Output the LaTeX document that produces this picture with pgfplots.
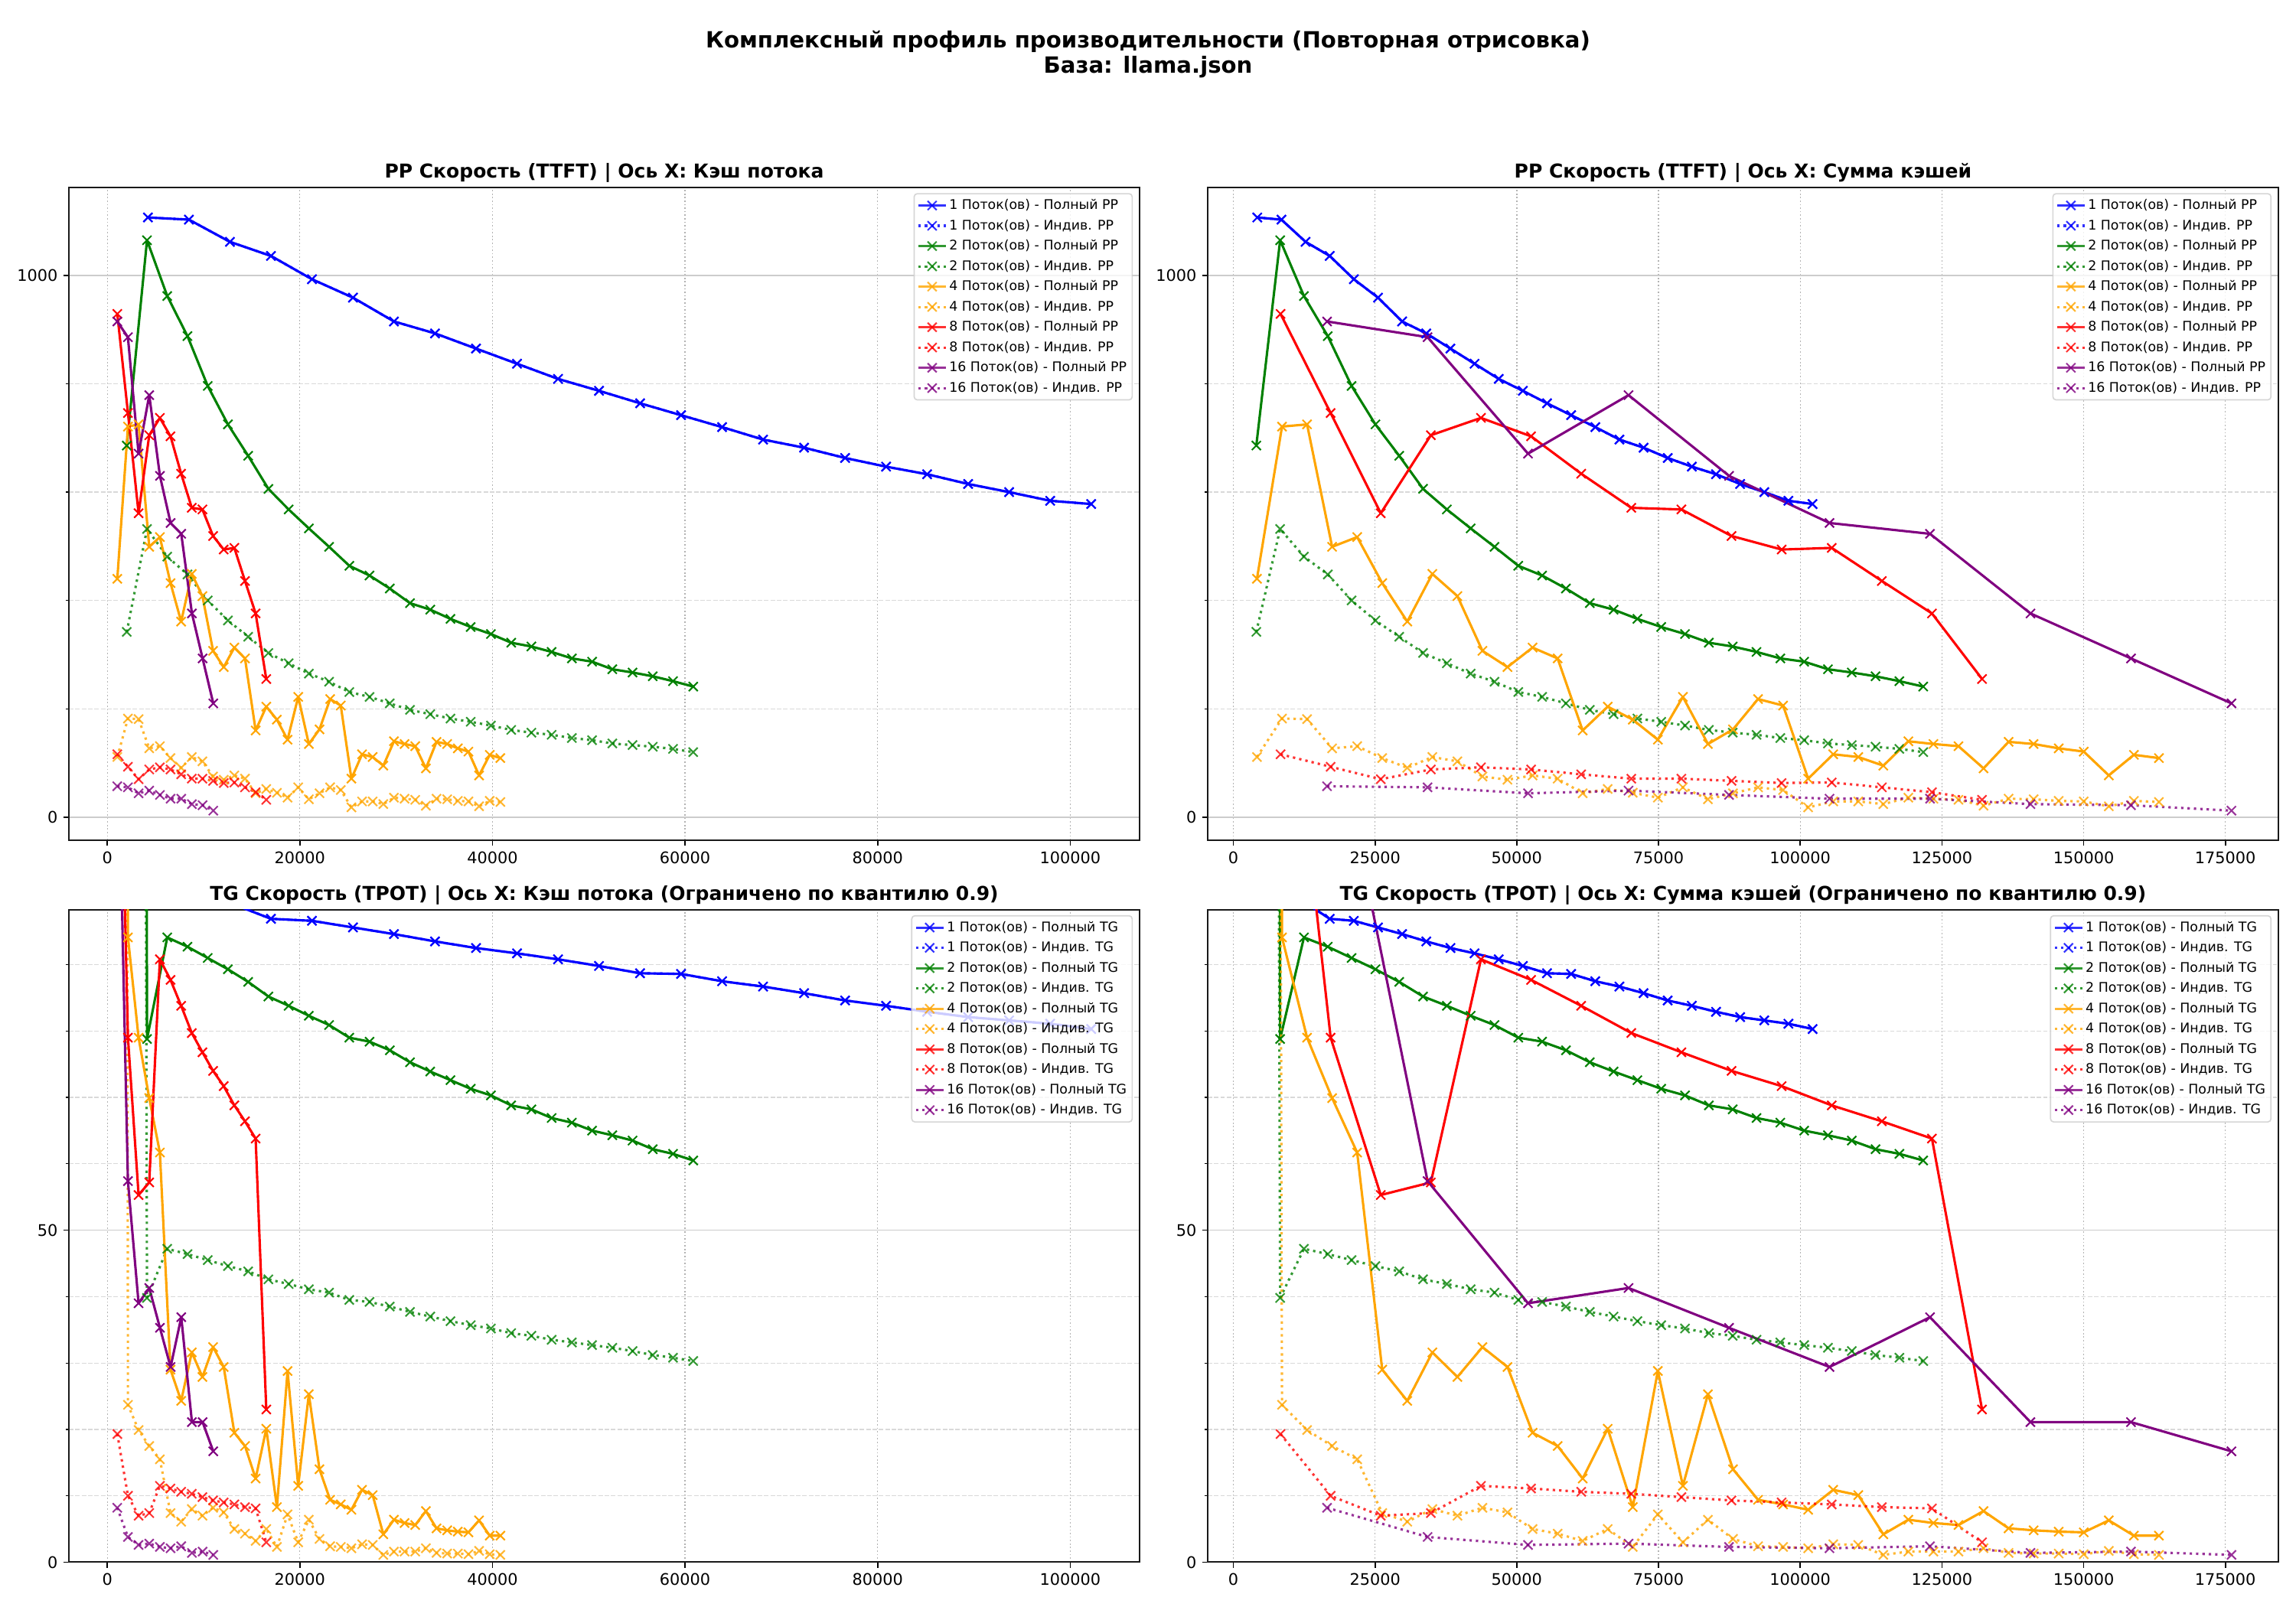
\documentclass[border=0pt]{standalone}
\usepackage{fontspec}
\setmainfont{DejaVu Sans}
\usepackage{pgfplots}
\usepackage{pgfplotstable}
\pgfplotsset{compat=1.18}
\definecolor{cB}{RGB}{0,0,255}
\definecolor{cG}{RGB}{0,128,0}
\definecolor{cO}{RGB}{255,165,0}
\definecolor{cR}{RGB}{255,0,0}
\definecolor{cP}{RGB}{128,0,128}

% x = per-thread cache, s = sum of caches, pp/ppi = full/individual PP, tg/tgi = full/individual TG
\pgfplotstableread{
x s pp ppi tg tgi
4218 4218 1107 1107 103 103
8477 8477 1103 1103 101 101
12736 12736 1062 1062 99.3 99.3
16995 16995 1036 1036 96.9 96.9
21254 21254 993 993 96.6 96.6
25513 25513 959 959 95.6 95.6
29772 29772 915 915 94.6 94.6
34031 34031 893 893 93.5 93.5
38290 38290 865 865 92.5 92.5
42549 42549 837 837 91.7 91.7
46808 46808 809 809 90.8 90.8
51067 51067 787 787 89.8 89.8
55326 55326 764 764 88.7 88.7
59585 59585 742 742 88.6 88.6
63844 63844 720 720 87.5 87.5
68103 68103 697 697 86.7 86.7
72362 72362 682 682 85.7 85.7
76621 76621 663 663 84.6 84.6
80880 80880 647 647 83.8 83.8
85139 85139 633 633 82.9 82.9
89398 89398 615 615 82.1 82.1
93657 93657 600 600 81.6 81.6
97916 97916 584 584 81.1 81.1
102175 102175 578 578 80.3 80.3
}\tA

\pgfplotstableread{
x s pp ppi tg tgi
2023 4046 686 342 2000 1200
4124 8248 1065 532 78.8 39.8
6225 12450 962 481 94.1 47.2
8326 16652 888 448 92.7 46.4
10427 20854 796 400 91.0 45.5
12528 25056 725 363 89.3 44.6
14629 29258 667 333 87.4 43.8
16730 33460 606 303 85.2 42.6
18831 37662 568 284 83.8 41.9
20932 41864 533 265 82.3 41.1
23033 46066 499 250 80.9 40.6
25134 50268 464 231 79.0 39.5
27235 54470 446 222 78.4 39.2
29336 58672 422 210 77.1 38.5
31437 62874 395 198 75.3 37.7
33538 67076 383 190 73.9 37.0
35639 71278 366 182 72.6 36.3
37740 75480 351 176 71.3 35.7
39841 79682 338 169 70.3 35.2
41942 83884 322 161 68.8 34.5
44043 88086 315 156 68.2 34.1
46144 92288 305 152 66.9 33.5
48245 96490 293 146 66.2 33.1
50346 100692 287 142 65.0 32.7
52447 104894 273 136 64.3 32.3
54548 109096 267 133 63.5 31.8
56649 113298 260 130 62.2 31.2
58750 117500 251 126 61.5 30.8
60851 121702 241 120 60.5 30.3
}\tB

\pgfplotstableread{
x s pp ppi tg tgi
1040 4160 440 111 2000 1500
2145 8580 721 182 94.1 23.7
3250 13000 725 181 79.0 19.9
4355 17420 499 127 69.9 17.5
5460 21840 517 131 61.7 15.5
6565 26260 432 109 29.0 7.4
7670 30680 361 91 24.3 6.1
8775 35100 449 111 31.6 8.0
9880 39520 408 103 27.9 7.0
10985 43940 307 75 32.4 8.2
12090 48360 277 69 29.4 7.5
13195 52780 313 77 19.5 5.0
14300 57200 293 71 17.5 4.3
15405 61620 160 44 12.6 3.2
16510 66040 204 52 20.1 5.0
17615 70460 180 45 8.3 2.3
18720 74880 143 36 28.8 7.2
19825 79300 222 55 11.5 3.0
20930 83720 135 33 25.3 6.4
22035 88140 162 44 14.0 3.5
23140 92560 218 55 9.4 2.4
24245 96980 206 50 8.7 2.3
25350 101400 71 18 7.9 2.1
26455 105820 116 29 10.9 2.7
27560 110240 111 29 10.1 2.6
28665 114660 95 24 4.2 1.1
29770 119080 140 36 6.4 1.6
30875 123500 135 34 5.9 1.6
31980 127920 131 32 5.6 1.6
33085 132340 90 21 7.7 2.1
34190 136760 139 34 5.1 1.4
35295 141180 135 33 4.8 1.3
36400 145600 127 30 4.6 1.3
37505 150020 121 29 4.5 1.2
38610 154440 77 20 6.3 1.7
39715 158860 115 30 4.0 1.2
40820 163280 109 28 4.0 1.1
}\tC

\pgfplotstableread{
x s pp ppi tg tgi
1040 8320 929 116 147 19.3
2145 17160 746 93 79.0 10.0
3250 26000 561 70 55.3 7.0
4355 34840 705 88 57.2 7.4
5460 43680 737 92 90.8 11.5
6565 52520 703 88 87.7 11.1
7670 61360 634 79 83.8 10.6
8775 70200 571 71 79.7 10.3
9880 79040 568 71 76.8 9.8
10985 87880 519 67 74.0 9.3
12090 96720 494 63 71.7 9.0
13195 105560 497 64 68.8 8.7
14300 114400 436 55 66.4 8.3
15405 123240 376 46 63.8 8.1
16510 132080 255 32 23.0 3.0
}\tD

\pgfplotstableread{
x s pp ppi tg tgi
1033 16528 915 57 132 8.2
2141 34256 886 55 57.4 3.8
3249 51984 671 44 39.0 2.6
4357 69712 779 49 41.3 2.8
5465 87440 630 41 35.3 2.3
6573 105168 543 34 29.4 2.1
7681 122896 523 34 36.9 2.4
8789 140624 376 24 21.1 1.4
9897 158352 293 22 21.1 1.6
11005 176080 210 12 16.7 1.1
}\tE

\pgfplotsset{
  fullline/.style={line width=1.5pt, line join=round, mark=x, mark size=4pt,
    mark options={solid, line width=1pt}},
  indline/.style={line width=1.5pt, line join=round, dash pattern=on 1.5pt off 2.5pt,
    mark=x, mark size=4pt, mark options={solid, line width=1pt}, opacity=0.8},
  panel/.style={
    scale only axis, width=671.5pt, height=409.4pt, anchor=south west,
    scaled x ticks=false, scaled y ticks=false,
    axis line style={line width=1pt, black!90},
    tick pos=left, tick align=outside,
    major tick length=3.5pt, minor tick length=2pt,
    major tick style={line width=0.8pt, black},
    minor tick style={line width=0.6pt, black},
    tick label style={font=\fontsize{10}{12}\selectfont},
    xmajorgrids, ymajorgrids, yminorgrids,
    major x grid style={black!30, line width=0.6pt, dash pattern=on 0.8pt off 1.4pt},
    major y grid style={black!20, line width=0.8pt},
    minor y grid style={black!15, line width=0.6pt, dash pattern=on 2.8pt off 1.2pt},
    title style={font=\bfseries\fontsize{12}{14}\selectfont, at={(0.5,1)}, anchor=base,
      inner sep=0pt},
    legend cell align=left,
    legend style={at={(1,1)}, anchor=north east, xshift=-4.2pt, yshift=-3.5pt,
      font=\fontsize{8.33}{10}\selectfont, draw=black!20, line width=0.8pt,
      rounded corners=2pt, fill=white, fill opacity=0.8, draw opacity=0.8,
      text opacity=1, inner sep=2pt, row sep=1.9pt, nodes={inner sep=1.5pt}},
  },
  leftx/.style={xmin=-3990, xmax=107200,
    xtick={0,20000,40000,60000,80000,100000},
    xticklabels={0,20000,40000,60000,80000,100000}},
  rightx/.style={xmin=-4540, xmax=184346,
    xtick={0,25000,50000,75000,100000,125000,150000,175000},
    xticklabels={0,25000,50000,75000,100000,125000,150000,175000}},
  ppy/.style={ymin=-42.5, ymax=1162.4, ytick={0,1000}, yticklabels={0,1000},
    minor ytick={200,400,600,800}},
  tgy/.style={ymin=0, ymax=98.3, ytick={0,50}, yticklabels={0,50},
    minor ytick={10,20,30,40,60,70,80,90}},
}

\newcommand\allseries[4]{%
  \addplot[fullline, color=cB] table[x=#1,y=#2]{\tA}; \addlegendentry{1 Поток(ов) - Полный #4}
  \addplot[indline, color=cB] table[x=#1,y=#3]{\tA}; \addlegendentry{1 Поток(ов) - Индив. #4}
  \addplot[fullline, color=cG] table[x=#1,y=#2]{\tB}; \addlegendentry{2 Поток(ов) - Полный #4}
  \addplot[indline, color=cG] table[x=#1,y=#3]{\tB}; \addlegendentry{2 Поток(ов) - Индив. #4}
  \addplot[fullline, color=cO] table[x=#1,y=#2]{\tC}; \addlegendentry{4 Поток(ов) - Полный #4}
  \addplot[indline, color=cO] table[x=#1,y=#3]{\tC}; \addlegendentry{4 Поток(ов) - Индив. #4}
  \addplot[fullline, color=cR] table[x=#1,y=#2]{\tD}; \addlegendentry{8 Поток(ов) - Полный #4}
  \addplot[indline, color=cR] table[x=#1,y=#3]{\tD}; \addlegendentry{8 Поток(ов) - Индив. #4}
  \addplot[fullline, color=cP] table[x=#1,y=#2]{\tE}; \addlegendentry{16 Поток(ов) - Полный #4}
  \addplot[indline, color=cP] table[x=#1,y=#3]{\tE}; \addlegendentry{16 Поток(ов) - Индив. #4}
}

\begin{document}
\begin{tikzpicture}
\useasboundingbox (0,0) rectangle (1440pt,1008pt);
\node[anchor=base, inner sep=0pt, font=\bfseries\fontsize{14}{16.8}\selectfont] at (720pt,977.8pt)
  {Комплексный профиль производительности (Повторная отрисовка)};
\node[anchor=base, inner sep=0pt, font=\bfseries\fontsize{14}{16.8}\selectfont] at (720pt,962.2pt)
  {База: llama.json};

\begin{axis}[panel, leftx, ppy, at={(43.2pt,481pt)},
  title={PP Скорость (TTFT) | Ось X: Кэш потока}]
\allseries{x}{pp}{ppi}{PP}
\end{axis}

\begin{axis}[panel, rightx, ppy, at={(757.4pt,481pt)},
  title={PP Скорость (TTFT) | Ось X: Сумма кэшей}]
\allseries{s}{pp}{ppi}{PP}
\end{axis}

\begin{axis}[panel, leftx, tgy, at={(43.2pt,28.1pt)},
  title={TG Скорость (TPOT) | Ось X: Кэш потока (Ограничено по квантилю 0.9)}]
\allseries{x}{tg}{tgi}{TG}
\end{axis}

\begin{axis}[panel, rightx, tgy, at={(757.4pt,28.1pt)},
  title={TG Скорость (TPOT) | Ось X: Сумма кэшей (Ограничено по квантилю 0.9)}]
\allseries{s}{tg}{tgi}{TG}
\end{axis}
\end{tikzpicture}
\end{document}
